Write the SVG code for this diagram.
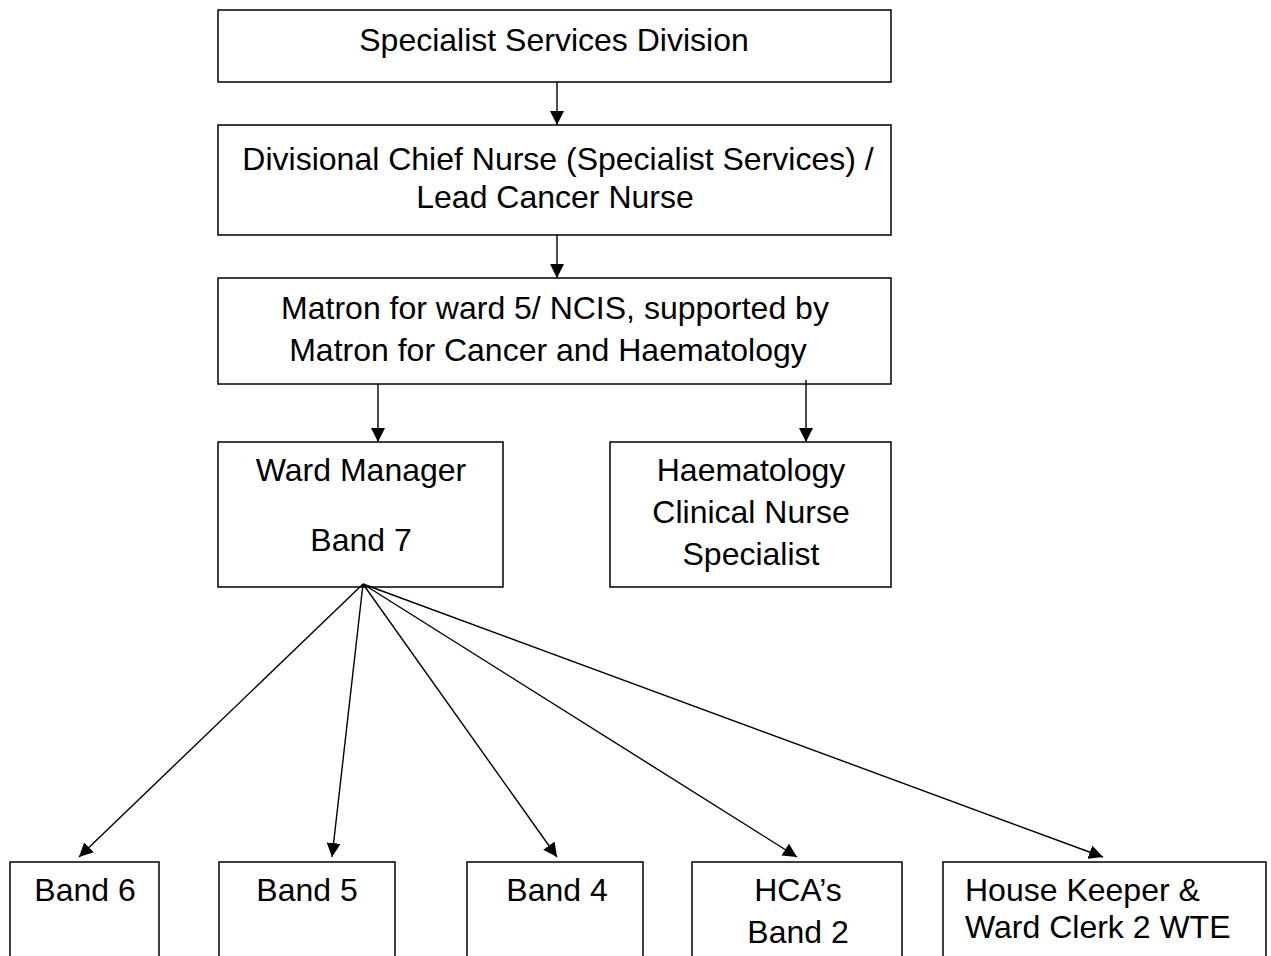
<svg xmlns="http://www.w3.org/2000/svg" width="1271" height="956" viewBox="0 0 1271 956">
  <defs>
    <style>
      .box { fill: #ffffff; stroke: #000000; stroke-width: 1.5; }
      .t { font-family: "Liberation Sans", Arial, sans-serif; font-size: 32px; fill: #000000; }
      .c { text-anchor: middle; }
      .con { stroke: #000000; stroke-width: 1.4; fill: none; marker-end: url(#arr); }
    </style>
    <marker id="arr" viewBox="0 0 14 14" refX="14" refY="7" markerWidth="14" markerHeight="14" markerUnits="userSpaceOnUse" orient="auto">
      <path d="M0,0 L14,7 L0,14 z" fill="#000000"/>
    </marker>
  </defs>
  <rect width="1271" height="956" fill="#ffffff"/>

  <g id="n-division">
    <rect class="box" x="218" y="10" width="673" height="72"/>
    <text class="t c" x="554" y="51">Specialist Services Division</text>
  </g>
  <g id="n-chief">
    <rect class="box" x="218" y="125" width="673" height="110"/>
    <text class="t c" x="558" y="170">Divisional Chief Nurse (Specialist Services) /</text>
    <text class="t c" x="555" y="208">Lead Cancer Nurse</text>
  </g>
  <g id="n-matron">
    <rect class="box" x="218" y="278" width="673" height="106"/>
    <text class="t c" x="555" y="319">Matron for ward 5/ NCIS, supported by</text>
    <text class="t c" x="548" y="361">Matron for Cancer and Haematology</text>
  </g>
  <g id="n-ward-manager">
    <rect class="box" x="218" y="442" width="285" height="145"/>
    <text class="t c" x="361" y="481">Ward Manager</text>
    <text class="t c" x="361" y="551">Band 7</text>
  </g>
  <g id="n-haem">
    <rect class="box" x="610" y="442" width="281" height="145"/>
    <text class="t c" x="751" y="481">Haematology</text>
    <text class="t c" x="751" y="523">Clinical Nurse</text>
    <text class="t c" x="751" y="565">Specialist</text>
  </g>
  <g id="n-band6">
    <rect class="box" x="10" y="862" width="149" height="110"/>
    <text class="t c" x="85" y="901">Band 6</text>
  </g>
  <g id="n-band5">
    <rect class="box" x="219" y="862" width="176" height="110"/>
    <text class="t c" x="307" y="901">Band 5</text>
  </g>
  <g id="n-band4">
    <rect class="box" x="467" y="862" width="176" height="110"/>
    <text class="t c" x="557" y="901">Band 4</text>
  </g>
  <g id="n-hca">
    <rect class="box" x="692" y="862" width="210" height="110"/>
    <text class="t c" x="798" y="901">HCA’s</text>
    <text class="t c" x="798" y="943">Band 2</text>
  </g>
  <g id="n-housekeeper">
    <rect class="box" x="943" y="862" width="323" height="110"/>
    <text class="t" x="965" y="901">House Keeper &amp;</text>
    <text class="t" x="965" y="938">Ward Clerk 2 WTE</text>
  </g>

  <g id="connectors">
    <line class="con" x1="557" y1="82" x2="557" y2="125"/>
    <line class="con" x1="557" y1="235" x2="557" y2="278"/>
    <line class="con" x1="378" y1="384" x2="378" y2="442"/>
    <line class="con" x1="806" y1="380" x2="806" y2="442"/>
    <line class="con" x1="363" y1="584" x2="79" y2="857"/>
    <line class="con" x1="363" y1="584" x2="332" y2="857"/>
    <line class="con" x1="363" y1="584" x2="557" y2="857"/>
    <line class="con" x1="363" y1="584" x2="797" y2="857"/>
    <line class="con" x1="363" y1="584" x2="1103" y2="857"/>
  </g>
</svg>
